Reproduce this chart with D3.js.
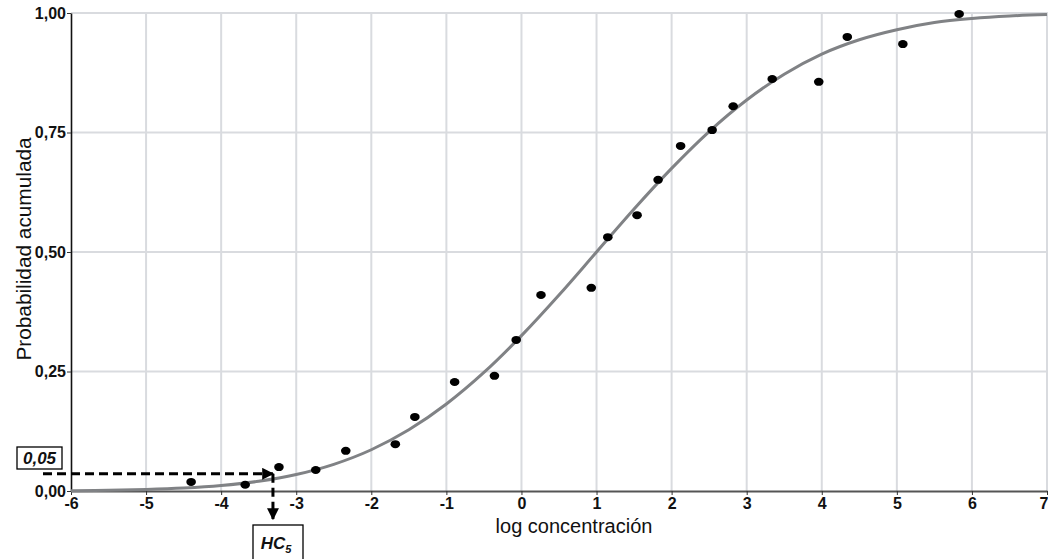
<!DOCTYPE html>
<html>
<head>
<meta charset="utf-8">
<script src="https://cdn.jsdelivr.net/npm/d3@7"></script>
<style>
  html, body { margin: 0; padding: 0; background: #fff; }
  svg { display: block; font-family: "Liberation Sans", Arial, sans-serif; }
</style>
</head>
<body>
<svg id="chart" width="1048" height="559"></svg>
<script>
// Observed data points (log concentración, probabilidad acumulada)
const pointX = [-4.40, -3.68, -3.23, -2.74, -2.34, -1.68, -1.42, -0.89, -0.36, -0.07, 0.26, 0.93, 1.15, 1.54, 1.82, 2.12, 2.54, 2.82, 3.34, 3.96, 4.34, 5.08, 5.83];
const pointY = [0.019, 0.013, 0.050, 0.044, 0.084, 0.098, 0.155, 0.228, 0.241, 0.316, 0.410, 0.425, 0.531, 0.577, 0.651, 0.722, 0.755, 0.805, 0.862, 0.856, 0.950, 0.935, 0.998];

// Fitted curve
const curveX = [-6, -5.5, -5, -4.5, -4, -3.5, -3, -2.5, -2, -1.5, -1, -0.5, 0, 0.5, 1, 1.5, 2, 2.5, 3, 3.5, 4, 4.5, 5, 5.5, 6, 6.5, 7];
const curveY = [0.0007, 0.0016, 0.0032, 0.0062, 0.0115, 0.0204, 0.0345, 0.0558, 0.0863, 0.128, 0.182, 0.248, 0.325, 0.410, 0.500, 0.590, 0.675, 0.752, 0.818, 0.872, 0.914, 0.944, 0.965, 0.980, 0.9885, 0.9938, 0.9968];

// Tick labels
const xTicks = [-6, -5, -4, -3, -2, -1, 0, 1, 2, 3, 4, 5, 6, 7];
const yTicks = [0, 0.25, 0.5, 0.75, 1.0];
const yTickLabels = ["0,00", "0,25", "0,50", "0,75", "1,00"];

// Annotation values
const hcLevel = 0.036;
const hcX = -3.31;

const svg = d3.select("#chart");
const x = d3.scaleLinear().domain([-6, 7]).range([71, 1047]);
const y = d3.scaleLinear().domain([0, 1]).range([491, 13]);

// gridlines
const grid = svg.append("g");
grid.selectAll("line.v").data(xTicks.filter(d => d > -6)).join("line")
  .attr("x1", d => x(d)).attr("x2", d => x(d))
  .attr("y1", y(1)).attr("y2", y(0))
  .attr("stroke", "#d9dbdf").attr("stroke-width", 2);
grid.selectAll("line.h").data(yTicks.filter(d => d > 0)).join("line")
  .attr("x1", x(-6)).attr("x2", 1048)
  .attr("y1", d => y(d)).attr("y2", d => y(d))
  .attr("stroke", "#d9dbdf").attr("stroke-width", 2);

// x axis
const xAxis = d3.axisBottom(x).tickValues(xTicks).tickSize(4).tickSizeOuter(0).tickFormat(d3.format("d"));
const gx = svg.append("g").attr("transform", `translate(0,${y(0)})`).call(xAxis);
gx.attr("font-size", 16).attr("font-family", "Liberation Sans, Arial, sans-serif");
gx.select(".domain").attr("stroke", "#555").attr("stroke-width", 2);
gx.selectAll(".tick line").attr("stroke", "#333");
gx.selectAll(".tick text").style("font-size", "16px").style("font-weight", "bold").attr("fill", "#111")
  .attr("y", 5).attr("dy", "0.8em")
  .text(d => d < 0 ? "-" + Math.abs(d) : d)
  .attr("text-anchor", d => d === 7 ? "end" : "middle")
  .attr("x", d => d === 7 ? 1 : 0);

// y axis
const yAxis = d3.axisLeft(y).tickValues(yTicks).tickSize(4).tickSizeOuter(0).tickFormat((d, i) => yTickLabels[i]);
const gy = svg.append("g").attr("transform", `translate(${x(-6)},0)`).call(yAxis);
gy.attr("font-size", 16).attr("font-family", "Liberation Sans, Arial, sans-serif");
gy.select(".domain").attr("stroke", "#111").attr("stroke-width", 1.6);
gy.selectAll(".tick line").attr("stroke", "#333");
gy.selectAll(".tick text").style("font-size", "16px").style("font-weight", "bold").attr("fill", "#111")
  .attr("x", -5);

// curve
const line = d3.line().x((d, i) => x(curveX[i])).y(d => y(d)).curve(d3.curveMonotoneX);
svg.append("path").datum(curveY).attr("d", line)
  .attr("fill", "none").attr("stroke", "#808285").attr("stroke-width", 3);

// points
svg.append("g").selectAll("ellipse").data(pointX).join("ellipse")
  .attr("cx", d => x(d)).attr("cy", (d, i) => y(pointY[i]))
  .attr("rx", 4.8).attr("ry", 4).attr("fill", "#000");

// axis titles
svg.append("text").attr("x", 574).attr("y", 533).attr("text-anchor", "middle")
  .attr("font-size", 20).attr("fill", "#111").text("log concentración");
svg.append("text").attr("transform", `translate(31,249) rotate(-90)`).attr("text-anchor", "middle")
  .attr("font-size", 20.8).attr("fill", "#111").text("Probabilidad acumulada");

// annotations
const defs = svg.append("defs");
defs.append("marker").attr("id", "ah").attr("viewBox", "0 0 10 10").attr("refX", 9).attr("refY", 5)
  .attr("markerWidth", 4).attr("markerHeight", 4).attr("markerUnits", "strokeWidth").attr("orient", "auto")
  .append("path").attr("d", "M0,0 L10,5 L0,10 Z").attr("fill", "#000");

const yHC = y(hcLevel), xHC = x(hcX);
svg.append("line").attr("x1", 43).attr("x2", xHC).attr("y1", yHC).attr("y2", yHC)
  .attr("stroke", "#000").attr("stroke-width", 3).attr("stroke-dasharray", "9,5")
  .attr("marker-end", "url(#ah)");
svg.append("line").attr("x1", xHC).attr("x2", xHC).attr("y1", yHC).attr("y2", 519)
  .attr("stroke", "#000").attr("stroke-width", 3).attr("stroke-dasharray", "9,5")
  .attr("marker-end", "url(#ah)");

svg.append("rect").attr("x", 17).attr("y", 447).attr("width", 45).attr("height", 22)
  .attr("fill", "#fff").attr("stroke", "#000").attr("stroke-width", 1.3);
svg.append("text").attr("x", 39.5).attr("y", 464).attr("text-anchor", "middle")
  .attr("font-size", 17).attr("font-weight", "bold").attr("font-style", "italic").attr("fill", "#111").text("0,05");

svg.append("rect").attr("x", 253).attr("y", 525).attr("width", 50).attr("height", 40)
  .attr("fill", "#fff").attr("stroke", "#000").attr("stroke-width", 1.3);
const hcT = svg.append("text").attr("x", 276).attr("y", 549).attr("text-anchor", "middle")
  .attr("font-size", 17).attr("font-weight", "bold").attr("font-style", "italic").attr("fill", "#111");
hcT.append("tspan").text("HC");
hcT.append("tspan").attr("font-size", 11).attr("dy", 4).text("5");
</script>
</body>
</html>
